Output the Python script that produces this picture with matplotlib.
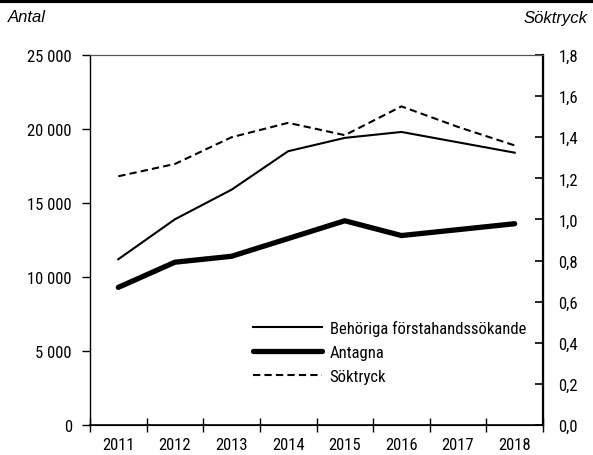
import matplotlib
matplotlib.use("Agg")
import matplotlib.pyplot as plt
from matplotlib.ticker import FuncFormatter, FixedLocator
from matplotlib.lines import Line2D

plt.rcParams['font.family'] = ['Roboto Condensed', 'DejaVu Sans']

years = ['2011', '2012', '2013', '2014', '2015', '2016', '2017', '2018']
behoriga = [11200, 13900, 15900, 18500, 19400, 19800, 19100, 18400]
antagna = [9300, 11000, 11400, 12600, 13800, 12800, 13200, 13600]
soktryck = [1.21, 1.27, 1.40, 1.47, 1.41, 1.55, 1.45, 1.36]

fig = plt.figure(figsize=(5.93, 4.56), dpi=100)
ax = fig.add_axes([90/593, 30/456, 453/593, 370/456])
ax2 = ax.twinx()

x = list(range(len(years)))
l1, = ax.plot(x, behoriga, color='black', lw=1.5, label='Behöriga förstahandssökande')
l2, = ax.plot(x, antagna, color='black', lw=3.8, solid_capstyle='round', label='Antagna')
l3, = ax2.plot(x, soktryck, color='black', lw=1.5, ls=(0, (3.5, 2)), label='Söktryck')

ax.set_xlim(-0.5, len(years) - 0.5)
ax.set_ylim(0, 25000)
ax2.set_ylim(0, 1.8)

ax.set_yticks(range(0, 25001, 5000))
ax.yaxis.set_major_formatter(FuncFormatter(lambda v, p: f"{int(v):,}".replace(',', ' ')))
ax2.set_yticks([i * 0.2 for i in range(10)])
ax2.yaxis.set_major_formatter(FuncFormatter(lambda v, p: f"{v:.1f}".replace('.', ',')))

ax.xaxis.set_major_locator(FixedLocator([i - 0.5 for i in range(len(years) + 1)]))
ax.xaxis.set_major_formatter(FuncFormatter(lambda v, p: ''))
ax.xaxis.set_minor_locator(FixedLocator(x))
ax.set_xticklabels(years, minor=True)
ax.tick_params(axis='x', which='major', direction='inout', length=10, width=1)
ax.tick_params(axis='x', which='minor', length=0, pad=9, labelsize=12)
ax.tick_params(axis='y', direction='out', length=6, width=1, labelsize=12, pad=7)
ax2.tick_params(axis='y', direction='in', length=6, width=1.2, labelsize=12, pad=11)

for a in (ax, ax2):
    a.spines['top'].set_color('#555555')
    a.spines['top'].set_linewidth(0.8)
ax.spines['left'].set_linewidth(1.0)
ax.spines['bottom'].set_linewidth(1.2)
ax2.spines['right'].set_linewidth(1.6)
ax2.spines['left'].set_visible(False)

fig.text(8/593, 1 - 18/456, 'Antal', style='italic', fontsize=12,
         family=['Liberation Sans', 'DejaVu Sans'], ha='left', va='center')
fig.text(588/593, 1 - 18/456, 'Söktryck', style='italic', fontsize=12,
         family=['Liberation Sans', 'DejaVu Sans'], ha='right', va='center')

fig.add_artist(Line2D([0, 1], [1 - 2/456, 1 - 2/456], color='black', lw=3, transform=fig.transFigure))

leg = ax.legend(handles=[l1, l2, l3], loc='upper left', bbox_to_anchor=(0.36, 0.285),
                frameon=False, fontsize=12, handlelength=4.15, handletextpad=0.45,
                labelspacing=0.54, borderaxespad=0, borderpad=0)

fig.savefig('out.png', dpi=100)
